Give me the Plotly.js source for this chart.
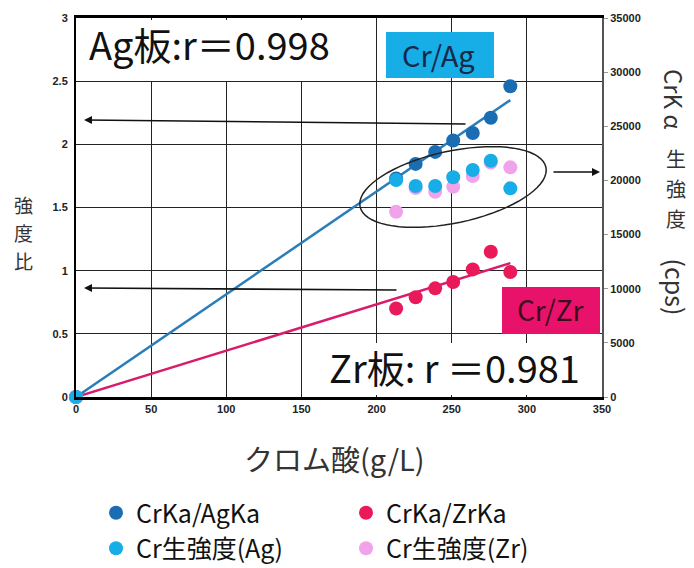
<!DOCTYPE html>
<html>
<head>
<meta charset="utf-8">
<script src="https://cdn.plot.ly/plotly-3.0.1.min.js"></script>
<style>html,body{margin:0;padding:0;background:#fff;}#chart{width:694px;height:568px;}</style>
</head>
<body>
<div id="chart"></div>
<script>
// ---- data ----
const concentration = [0, 213, 226, 239, 251, 264, 276, 289];
const ratioAg = [0, 1.73, 1.845, 1.94, 2.03, 2.09, 2.21, 2.46];
const ratioZr = [0, 0.70, 0.79, 0.86, 0.91, 1.01, 1.15, 0.99];
const rawAg = [0, 20040, 19490, 19490, 20290, 20960, 21820, 19270];
const rawZr = [0, 17110, 19300, 18960, 19420, 20410, 21650, 21210];
const trendX = [0, 289];
const trendAg = [0, 2.35];
const trendZr = [0, 1.06];
const xTicks = [0, 50, 100, 150, 200, 250, 300, 350];
const yTicks = [0, 0.5, 1, 1.5, 2, 2.5, 3];
const y2Ticks = [0, 5000, 10000, 15000, 20000, 25000, 30000, 35000];
const names = ['CrKa/AgKa', 'CrKa/ZrKa', 'Cr生強度(Ag)', 'Cr生強度(Zr)'];

// ---- layout helpers (pixel -> paper) ----
const L = 76, R = 602, T = 18, B = 397;
const PX = p => (p - L) / (R - L);
const PY = p => (B - p) / (B - T);

const cDark = '#1b6db3', cLight = '#17ade6', cRed = '#ea1a5a', cPink = '#f0a3ea';
const jp = '"Noto Sans CJK JP", "Noto Sans", sans-serif';

const traces = [
  {x: trendX, y: trendAg, mode: 'lines', line: {color: '#2a7db8', width: 2.5}, showlegend: false, hoverinfo: 'skip'},
  {x: trendX, y: trendZr, mode: 'lines', line: {color: '#d81c6b', width: 2.5}, showlegend: false, hoverinfo: 'skip'},
  {x: concentration, y: ratioAg, mode: 'markers', name: names[0], legendrank: 1,
   marker: {color: cDark, size: 14}, cliponaxis: false},
  {x: concentration, y: ratioZr, mode: 'markers', name: names[1], legendrank: 2,
   marker: {color: cRed, size: 14}, cliponaxis: false},
  {x: concentration, y: rawZr, yaxis: 'y2', mode: 'markers', name: names[3], legendrank: 4,
   marker: {color: cPink, size: 14}, cliponaxis: false},
  {x: concentration, y: rawAg, yaxis: 'y2', mode: 'markers', name: names[2], legendrank: 3,
   marker: {color: cLight, size: 14}, cliponaxis: false}
];

// ellipse path (pixel-defined, converted to paper)
function ellipsePath(cx, cy, a, b, deg) {
  const phi = deg * Math.PI / 180;
  let d = '';
  for (let i = 0; i <= 72; i++) {
    const t = i / 72 * 2 * Math.PI;
    const px = cx + a * Math.cos(t) * Math.cos(phi) + b * Math.sin(t) * Math.sin(phi);
    const py = cy - a * Math.cos(t) * Math.sin(phi) + b * Math.sin(t) * Math.cos(phi);
    d += (i === 0 ? 'M' : 'L') + PX(px).toFixed(5) + ',' + PY(py).toFixed(5);
  }
  return d + 'Z';
}

const tickFont = {family: 'Arial, "Liberation Sans", sans-serif', size: 11, color: '#222', weight: 'bold'};

function label(text, px, py, size, extra) {
  return Object.assign({xref: 'paper', yref: 'paper', x: PX(px), y: PY(py), xanchor: 'center', yanchor: 'middle',
    showarrow: false, borderpad: 0, text: text, font: {family: jp, size: size, color: '#333'}}, extra || {});
}

const layout = {
  width: 694, height: 568,
  margin: {l: L, r: 694 - R, t: T, b: 568 - B, autoexpand: false},
  paper_bgcolor: '#fff', plot_bgcolor: '#fff',
  showlegend: true,
  legend: {orientation: 'h', x: PX(96), y: PY(490), xanchor: 'left', yanchor: 'top',
           entrywidth: 205, entrywidthmode: 'pixels', traceorder: 'normal',
           font: {family: jp, size: 25, color: '#111'}, itemsizing: 'trace', tracegroupgap: 0},
  xaxis: {range: [0, 350], tickvals: xTicks, ticktext: xTicks.map(String), tickfont: tickFont,
          showgrid: true, gridcolor: '#222', gridwidth: 1, zeroline: false,
          showline: true, linecolor: '#000', linewidth: 3, mirror: true, ticks: '', fixedrange: true},
  yaxis: {range: [0, 3], tickvals: yTicks, ticktext: yTicks.map(String), tickfont: tickFont,
          showgrid: true, gridcolor: '#222', gridwidth: 1, zeroline: false,
          showline: true, linecolor: '#000', linewidth: 2, ticks: '', ticklabelstandoff: 4},
  yaxis2: {range: [0, 35000], tickvals: y2Ticks, ticktext: y2Ticks.map(String), tickfont: tickFont,
           overlaying: 'y', side: 'right', showgrid: false, zeroline: false,
           showline: true, linecolor: '#555', linewidth: 2, ticks: 'outside', ticklen: 4, tickcolor: '#999'},
  shapes: [
    {type: 'rect', xref: 'paper', yref: 'paper', x0: PX(78), x1: PX(340), y0: PY(81), y1: PY(20),
     fillcolor: '#fff', line: {width: 0}},
    {type: 'rect', xref: 'paper', yref: 'paper', x0: PX(386), x1: PX(494), y0: PY(78), y1: PY(32),
     fillcolor: cLight, line: {width: 0}},
    {type: 'rect', xref: 'paper', yref: 'paper', x0: PX(502), x1: PX(600), y0: PY(334), y1: PY(287),
     fillcolor: '#e8126b', line: {width: 0}},
    {type: 'rect', xref: 'paper', yref: 'paper', x0: PX(324), x1: PX(600), y0: PY(395), y1: PY(343),
     fillcolor: '#fff', line: {width: 0}},
    {type: 'path', xref: 'paper', yref: 'paper', path: ellipsePath(453, 187, 95, 36, 12),
     line: {color: '#222', width: 1.5}, fillcolor: 'rgba(0,0,0,0)'}
  ],
  annotations: [
    label('Ag板:r＝0.998', 88, 44, 38, {xanchor: 'left', font: {family: jp, size: 38, color: '#111'}}),
    label('Cr/Ag', 438, 54, 29, {font: {family: jp, size: 29, color: '#172848'}}),
    label('Cr/Zr', 550, 309, 28, {font: {family: jp, size: 28, color: '#3a0a1e'}}),
    label('Zr板: r ＝0.981', 328, 366, 38, {xanchor: 'left', font: {family: jp, size: 38, color: '#111'}}),
    // arrows
    {xref: 'paper', yref: 'paper', x: PX(84), y: PY(120), ax: 383, ay: 4, axref: 'pixel', ayref: 'pixel',
     text: '', showarrow: true, arrowhead: 2, arrowsize: 1, arrowwidth: 1.6, arrowcolor: '#111'},
    {xref: 'paper', yref: 'paper', x: PX(84), y: PY(288), ax: 314, ay: 2, axref: 'pixel', ayref: 'pixel',
     text: '', showarrow: true, arrowhead: 2, arrowsize: 1, arrowwidth: 1.6, arrowcolor: '#111'},
    {xref: 'paper', yref: 'paper', x: PX(600), y: PY(172), ax: -48, ay: 0, axref: 'pixel', ayref: 'pixel',
     text: '', showarrow: true, arrowhead: 2, arrowsize: 1, arrowwidth: 1.6, arrowcolor: '#111'},
    // axis titles
    label('クロム酸(g/L)', 334, 458, 29),
    label('強', 23, 204, 19),
    label('度', 23, 232, 19),
    label('比', 23, 260, 19),
    label('CrK α', 675, 99, 24, {textangle: 90}),
    label('生', 676, 158, 20),
    label('強', 676, 188, 20),
    label('度', 676, 218, 20),
    label(' (cps) ', 676, 287, 25, {textangle: 90})
  ]
};

Plotly.newPlot('chart', traces, layout, {displayModeBar: false, staticPlot: true});
</script>
</body>
</html>
